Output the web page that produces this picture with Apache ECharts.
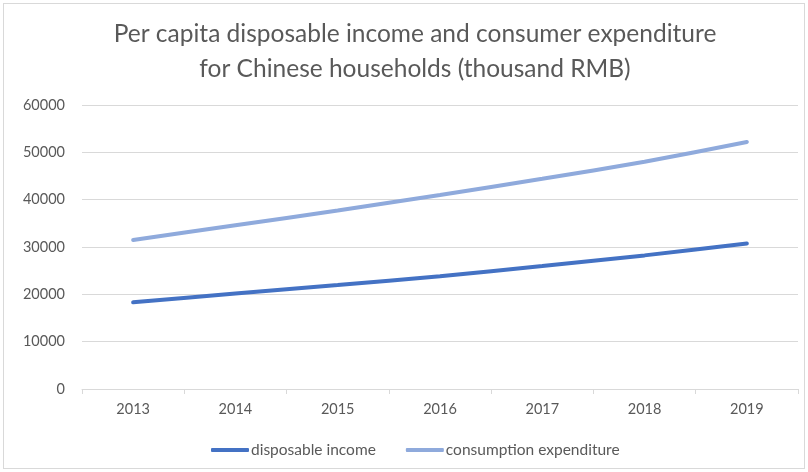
<!DOCTYPE html>
<html>
<head>
<meta charset="utf-8">
<script src="https://cdn.jsdelivr.net/npm/echarts@6/dist/echarts.min.js"></script>
<style>
html,body{margin:0;padding:0;background:#fff;}
#wrap{position:absolute;left:3px;top:3px;width:802px;height:466px;border:1px solid #d9d9d9;box-sizing:border-box;}
#chart{position:absolute;left:0;top:0;width:808px;height:472px;}
</style>
</head>
<body>
<div id="wrap"></div>
<div id="chart"></div>
<script>
var years = ['2013','2014','2015','2016','2017','2018','2019'];
var disposableIncome = [18311, 20167, 21966, 23821, 25974, 28228, 30733];
var consumptionExpenditure = [31500, 34600, 37700, 41000, 44400, 48000, 52200];
var titleLines = 'Per capita disposable income and consumer expenditure\nfor Chinese households (thousand RMB)';

var chart = echarts.init(document.getElementById('chart'), null, {renderer:'canvas'});
var font = 'Lato, "Open Sans", sans-serif';
chart.setOption({
  animation:false,
  title:{
    text:titleLines,
    left:410, top:12,
    textAlign:'center',
    textStyle:{fontFamily:font, fontSize:24.5, fontWeight:'normal', color:'#595959', lineHeight:35}
  },
  legend:{
    left:206, top:437,
    itemWidth:38, itemHeight:4, itemGap:30,
    icon:'roundRect',
    textStyle:{fontFamily:font, fontSize:15.5, color:'#595959', padding:[0,0,0,-3]},
    data:['disposable income','consumption expenditure']
  },
  grid:{left:82, right:10, top:105, bottom:83},
  xAxis:{
    type:'category', data:years, boundaryGap:true,
    axisLine:{lineStyle:{color:'#d9d9d9', width:1}},
    axisTick:{show:true, length:5, lineStyle:{color:'#d9d9d9'}},
    axisLabel:{fontFamily:font, fontSize:14.5, color:'#595959', margin:13}
  },
  yAxis:{
    type:'value', min:0, max:60000, interval:10000,
    axisLine:{show:false}, axisTick:{show:false},
    splitLine:{lineStyle:{color:'#d9d9d9', width:1}},
    axisLabel:{fontFamily:font, fontSize:14.5, color:'#595959', margin:17,
      formatter:function(v){return String(v);}}
  },
  series:[
    {name:'disposable income', type:'line', data:disposableIncome, smooth:0.2,
     showSymbol:false, symbol:'none', lineStyle:{color:'#4472C4', width:4, cap:'round'}, itemStyle:{color:'#4472C4'}},
    {name:'consumption expenditure', type:'line', data:consumptionExpenditure, smooth:0.2,
     showSymbol:false, symbol:'none', lineStyle:{color:'#8FAADC', width:4, cap:'round'}, itemStyle:{color:'#8FAADC'}}
  ]
});
</script>
</body>
</html>
